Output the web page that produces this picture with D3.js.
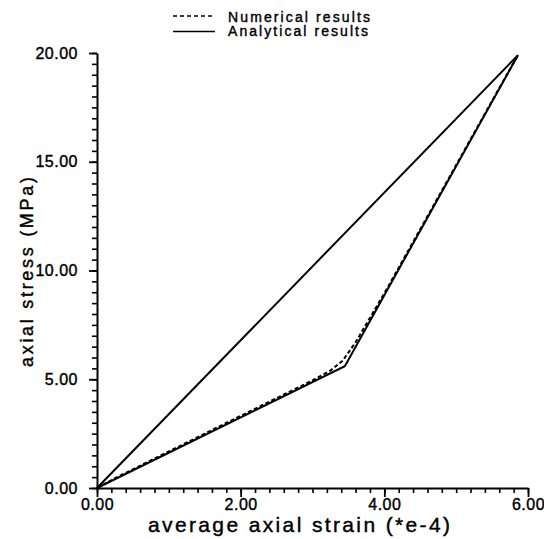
<!DOCTYPE html>
<html>
<head>
<meta charset="utf-8">
<script src="https://cdn.jsdelivr.net/npm/d3@7/dist/d3.min.js"></script>
<style>
  html, body { margin: 0; padding: 0; background: #fff; }
  svg { display: block; }
  text { font-family: "Liberation Sans", Arial, sans-serif; fill: #000; }
</style>
</head>
<body>
<svg id="chart" width="544" height="539"></svg>
<script>
// ---- data ----
const analyticalUpper = [[0, 0], [5.86, 19.9]];
const analyticalLower = [[0, 0], [3.45, 5.6], [5.86, 19.9]];
const numerical = [
  [0, 0], [0.25, 0.45], [0.5, 0.86], [1.0, 1.68], [1.5, 2.5], [2.0, 3.32],
  [2.5, 4.13], [3.0, 4.95], [3.25, 5.4], [3.42, 5.85], [3.6, 6.7],
  [4.0, 8.95], [4.5, 11.9], [5.0, 14.85], [5.5, 17.8], [5.86, 19.9]
];
const xMajorTicks = [0, 2, 4, 6];
const yMajorTicks = [0, 5, 10, 15, 20];
const xMinorTicks = d3.range(0, 30.5, 1).map(d => d * 0.2);
const yMinorTicks = d3.range(0, 40.5, 1).map(d => d * 0.5);
const xTitle = "average  axial  strain  (*e-4)";
const yTitle = "axial  stress  (MPa)";
const legendLabels = ["Numerical  results", "Analytical  results"];

// ---- drawing ----
const svg = d3.select("#chart");
const x = d3.scaleLinear().domain([0, 6]).range([97, 528]);
const y = d3.scaleLinear().domain([0, 20]).range([488, 53]);
const fmt = d3.format(".2f");

// minor ticks
svg.append("g").attr("transform", `translate(0,${y(0)})`)
  .call(d3.axisBottom(x).tickValues(xMinorTicks).tickSize(5).tickSizeOuter(0).tickFormat(""))
  .call(g => g.select(".domain").remove())
  .call(g => g.selectAll("line").attr("stroke-width", 1.6));
svg.append("g").attr("transform", `translate(${x(0)},0)`)
  .call(d3.axisLeft(y).tickValues(yMinorTicks).tickSize(5).tickSizeOuter(0).tickFormat(""))
  .call(g => g.select(".domain").remove())
  .call(g => g.selectAll("line").attr("stroke-width", 1.6));

// major axes
const xAxis = svg.append("g").attr("transform", `translate(0,${y(0)})`)
  .call(d3.axisBottom(x).tickValues(xMajorTicks).tickSize(9).tickPadding(2).tickSizeOuter(0).tickFormat(fmt));
const yAxis = svg.append("g").attr("transform", `translate(${x(0)},0)`)
  .call(d3.axisLeft(y).tickValues(yMajorTicks).tickSize(8).tickPadding(11).tickSizeOuter(0).tickFormat(fmt));
[xAxis, yAxis].forEach(g => {
  g.select(".domain").attr("stroke-width", 2);
  g.selectAll("line").attr("stroke-width", 1.8);
  g.selectAll("text").style("font-size", "16px").style("letter-spacing", "0.5px")
    .style("font-family", "'Liberation Sans', Arial, sans-serif").attr("fill", "#000")
    .attr("stroke", "#000").attr("stroke-width", 0.4);
});

// lines
const line = d3.line().x(d => x(d[0])).y(d => y(d[1]));
svg.append("path").datum(analyticalUpper).attr("d", line)
  .attr("fill", "none").attr("stroke", "#000").attr("stroke-width", 2);
svg.append("path").datum(analyticalLower).attr("d", line)
  .attr("fill", "none").attr("stroke", "#000").attr("stroke-width", 2);
svg.append("path").datum(numerical).attr("d", line)
  .attr("fill", "none").attr("stroke", "#000").attr("stroke-width", 2)
  .attr("stroke-dasharray", "4,2.5");

// titles
svg.append("text").attr("x", 299).attr("y", 532).attr("text-anchor", "middle")
  .attr("textLength", 302).attr("lengthAdjust", "spacing")
  .attr("stroke", "#000").attr("stroke-width", 0.4)
  .style("font-size", "21px").text(xTitle);
svg.append("text").attr("transform", "translate(33,272) rotate(-90)")
  .attr("text-anchor", "middle").attr("textLength", 190).attr("lengthAdjust", "spacing")
  .attr("stroke", "#000").attr("stroke-width", 0.4)
  .style("font-size", "18px").text(yTitle);

// legend
const leg = svg.append("g");
leg.append("line").attr("x1", 173).attr("x2", 215).attr("y1", 16).attr("y2", 16)
  .attr("stroke", "#000").attr("stroke-width", 1.5).attr("stroke-dasharray", "4,3");
leg.append("line").attr("x1", 173).attr("x2", 215).attr("y1", 31.5).attr("y2", 31.5)
  .attr("stroke", "#000").attr("stroke-width", 1.5);
leg.append("text").attr("x", 228).attr("y", 21.5).attr("textLength", 142).attr("lengthAdjust", "spacing")
  .attr("stroke", "#000").attr("stroke-width", 0.4)
  .style("font-size", "14px").text(legendLabels[0]);
leg.append("text").attr("x", 228).attr("y", 36).attr("textLength", 140).attr("lengthAdjust", "spacing")
  .attr("stroke", "#000").attr("stroke-width", 0.4)
  .style("font-size", "14px").text(legendLabels[1]);
</script>
</body>
</html>
